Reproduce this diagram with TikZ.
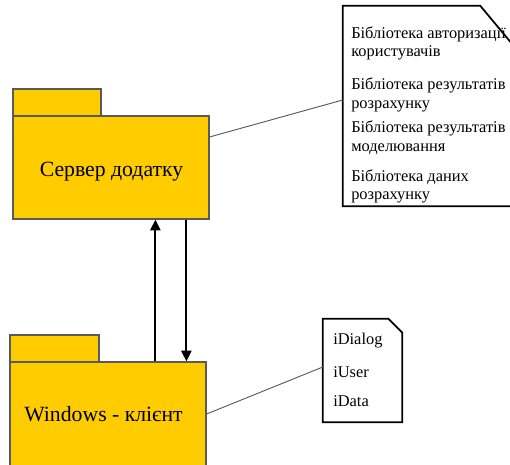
\documentclass[tikz,border=0pt]{standalone}
\usepackage{fontspec}
\setmainfont{Liberation Serif}
\newfontfamily\tnr{Liberation Serif}
\usetikzlibrary{arrows.meta}
\definecolor{pkgfill}{HTML}{FFCC00}
\definecolor{pkgline}{HTML}{5A5A5A}
\begin{document}
\begin{tikzpicture}[x=0.75pt,y=-0.75pt,
  pkg/.style={draw=pkgline, line width=0.9pt, fill=pkgfill, inner sep=0pt},
  pkglabel/.style={inner sep=0pt, font=\tnr\fontsize{16.3}{19}\selectfont},
  notebox/.style={inner sep=0pt},
  noteline/.style={draw=black, line width=1.3pt},
  notetext/.style={anchor=west, align=left, inner sep=0pt, font=\tnr\fontsize{12.3}{14}\selectfont},
  link/.style={draw=pkgline, line width=0.7pt},
  flow/.style={draw=black, line width=1.6pt, -{Triangle[length=8pt,width=7.5pt]}}]
\useasboundingbox (0,0) rectangle (510,464);
\clip (0,0) rectangle (510,464);
% server package
\node[pkg, minimum width=66pt, minimum height=20.25pt] (srvtab) at (57,102.5) {};
\node[pkg, minimum width=147pt, minimum height=77.25pt] (srvbody) at (111,167.5) {};
\node[pkglabel] (srvlabel) at (111.5,171.5) {Сервер додатку};
% client package
\node[pkg, minimum width=66.75pt, minimum height=20.25pt] (clttab) at (54.5,348.5) {};
\node[pkg, minimum width=147pt, minimum height=78pt] (cltbody) at (108,414) {};
\node[pkglabel] (cltlabel) at (103.5,414.5) {Windows - клієнт};
% arrows
\draw[flow] ([xshift=109.5pt]cltbody.north west) -- ([xshift=109.5pt]cltbody.north west |- srvbody.south);
\draw[flow] ([xshift=132.75pt]cltbody.north west |- srvbody.south) -- ([xshift=132.75pt]cltbody.north west);
% note 1
\node[notebox, minimum width=129pt, minimum height=150pt] (note1) at (429,106) {};
\draw[noteline, fill=white] (note1.north west) -- ([xshift=-26.25pt]note1.north east) -- ([yshift=-31.5pt]note1.north east) -- (note1.south east) -- (note1.south west) -- cycle;
\node[notetext] (n1a) at (351,43.5) {Бібліотека авторизації\\користувачів};
\node[notetext] (n1b) at (351,95) {Бібліотека результатів\\розрахунку};
\node[notetext] (n1c) at (351,138) {Бібліотека результатів\\моделювання};
\node[notetext] (n1d) at (351,186.5) {Бібліотека даних\\розрахунку};
% note 2
\node[notebox, minimum width=59.25pt, minimum height=77.25pt] (note2) at (362.5,370.5) {};
\draw[noteline, fill=white] (note2.north west) -- ([xshift=-10.5pt]note2.north east) -- ([yshift=-10.5pt]note2.north east) -- (note2.south east) -- (note2.south west) -- cycle;
\node[notetext] (n2a) at (333,341) {iDialog};
\node[notetext] (n2b) at (333,372) {iUser};
\node[notetext] (n2c) at (333,401.5) {iData};
% links
\draw[link] ([yshift=22.9pt]srvbody.east) -- ([yshift=4.5pt]note1.west);
\draw[link] (cltbody.east) -- ([yshift=2.6pt]note2.west);
\end{tikzpicture}
\end{document}
